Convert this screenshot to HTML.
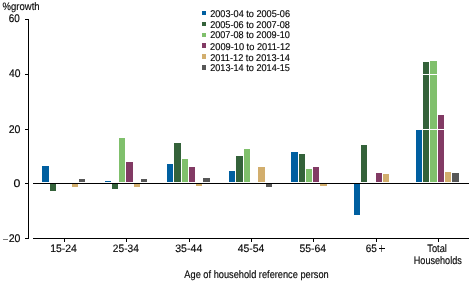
<!DOCTYPE html>
<html><head><meta charset="utf-8"><style>
html,body{margin:0;padding:0;background:#fff;width:472px;height:283px;overflow:hidden}
svg{display:block;will-change:transform;text-rendering:geometricPrecision}
text{font-family:"Liberation Sans",sans-serif;fill:#000;stroke:#000;stroke-width:0.15px}
</style></head><body>
<svg width="472" height="283" viewBox="0 0 472 283">
<g shape-rendering="crispEdges">
<rect x="42" y="166" width="7" height="16" fill="#005fa0"/>
<rect x="50" y="184" width="6" height="7" fill="#34623a"/>
<rect x="72" y="184" width="6" height="3" fill="#d2ae6d"/>
<rect x="79" y="179" width="6" height="3" fill="#575757"/>
<rect x="105" y="181" width="6" height="1" fill="#005fa0"/>
<rect x="112" y="184" width="6" height="5" fill="#34623a"/>
<rect x="119" y="138" width="6" height="44" fill="#80c06c"/>
<rect x="126" y="162" width="7" height="20" fill="#823a64"/>
<rect x="134" y="184" width="6" height="3" fill="#d2ae6d"/>
<rect x="141" y="179" width="6" height="3" fill="#575757"/>
<rect x="167" y="164" width="6" height="18" fill="#005fa0"/>
<rect x="174" y="143" width="7" height="39" fill="#34623a"/>
<rect x="182" y="159" width="6" height="23" fill="#80c06c"/>
<rect x="189" y="167" width="6" height="15" fill="#823a64"/>
<rect x="196" y="184" width="6" height="2" fill="#d2ae6d"/>
<rect x="203" y="178" width="7" height="4" fill="#575757"/>
<rect x="229" y="171" width="6" height="11" fill="#005fa0"/>
<rect x="236" y="156" width="7" height="26" fill="#34623a"/>
<rect x="244" y="149" width="6" height="33" fill="#80c06c"/>
<rect x="258" y="167" width="7" height="15" fill="#d2ae6d"/>
<rect x="266" y="184" width="6" height="3" fill="#575757"/>
<rect x="291" y="152" width="7" height="30" fill="#005fa0"/>
<rect x="299" y="154" width="6" height="28" fill="#34623a"/>
<rect x="306" y="169" width="6" height="13" fill="#80c06c"/>
<rect x="313" y="167" width="6" height="15" fill="#823a64"/>
<rect x="320" y="184" width="7" height="2" fill="#d2ae6d"/>
<rect x="354" y="184" width="6" height="31" fill="#005fa0"/>
<rect x="361" y="145" width="6" height="37" fill="#34623a"/>
<rect x="376" y="173" width="6" height="9" fill="#823a64"/>
<rect x="383" y="174" width="6" height="8" fill="#d2ae6d"/>
<rect x="416" y="130" width="6" height="52" fill="#005fa0"/>
<rect x="423" y="62" width="6" height="120" fill="#34623a"/>
<rect x="430" y="61" width="7" height="121" fill="#80c06c"/>
<rect x="438" y="115" width="6" height="67" fill="#823a64"/>
<rect x="445" y="172" width="6" height="10" fill="#d2ae6d"/>
<rect x="452" y="173" width="7" height="9" fill="#575757"/>
<rect x="33" y="74" width="436" height="1" fill="#fff"/>
<rect x="33" y="129" width="436" height="1" fill="#fff"/>
<rect x="28" y="19" width="1" height="220" fill="#000"/>
<rect x="25" y="19" width="3" height="1" fill="#000"/>
<rect x="25" y="74" width="3" height="1" fill="#000"/>
<rect x="25" y="129" width="3" height="1" fill="#000"/>
<rect x="25" y="183" width="3" height="1" fill="#000"/>
<rect x="25" y="238" width="3" height="1" fill="#000"/>
<rect x="33" y="183" width="436" height="1" fill="#000"/>
<rect x="33" y="238" width="436" height="1" fill="#000"/>
<rect x="64" y="239" width="1" height="3" fill="#000"/>
<rect x="126" y="239" width="1" height="3" fill="#000"/>
<rect x="189" y="239" width="1" height="3" fill="#000"/>
<rect x="251" y="239" width="1" height="3" fill="#000"/>
<rect x="313" y="239" width="1" height="3" fill="#000"/>
<rect x="376" y="239" width="1" height="3" fill="#000"/>
<rect x="438" y="239" width="1" height="3" fill="#000"/>
<rect x="3" y="239" width="5" height="1" fill="#7a7a7a"/>
<rect x="381" y="245" width="1" height="7" fill="#707070"/>
<rect x="379" y="248" width="6" height="1" fill="#000"/>
<rect x="202" y="11" width="4" height="4" fill="#005fa0"/>
<rect x="202" y="22" width="4" height="4" fill="#34623a"/>
<rect x="202" y="33" width="4" height="4" fill="#80c06c"/>
<rect x="202" y="43" width="4" height="5" fill="#823a64"/>
<rect x="202" y="54" width="4" height="5" fill="#d2ae6d"/>
<rect x="202" y="65" width="4" height="5" fill="#575757"/>
</g>
<g>
<text transform="translate(2.604 10) scale(0.8809 1)" font-size="10.8">%growth</text>
<text transform="translate(8.751 22) scale(0.9007 1)" font-size="11">60</text>
<text transform="translate(8.921 77) scale(0.9381 1)" font-size="11">40</text>
<text transform="translate(8.672 133) scale(0.9596 1)" font-size="11">20</text>
<text transform="translate(13.456 187) scale(1.1235 1)" font-size="11">0</text>
<text transform="translate(8.672 242) scale(0.9596 1)" font-size="11">20</text>
<text transform="translate(50.132 252) scale(0.9713 1)" font-size="10.8">15-24</text>
<text transform="translate(112.82 252) scale(0.9434 1)" font-size="10.8">25-34</text>
<text transform="translate(175.212 252) scale(0.9808 1)" font-size="10.8">35-44</text>
<text transform="translate(237.716 252) scale(0.9652 1)" font-size="10.8">45-54</text>
<text transform="translate(299.429 252) scale(0.9645 1)" font-size="10.8">55-64</text>
<text transform="translate(365.689 252) scale(0.9276 1)" font-size="10.8">65</text>
<text transform="translate(427.296 252) scale(0.8583 1)" font-size="10.8">Total</text>
<text transform="translate(413.748 264) scale(0.8428 1)" font-size="10.8">Households</text>
<text transform="translate(184.343 278) scale(0.8559 1)" font-size="10.8">Age of household reference person</text>
<text transform="translate(210.127 17) scale(0.9343 1)" font-size="9.8">2003-04 to 2005-06</text>
<text transform="translate(210.128 28) scale(0.9322 1)" font-size="9.8">2005-06 to 2007-08</text>
<text transform="translate(210.144 38) scale(0.9316 1)" font-size="9.8">2007-08 to 2009-10</text>
<text transform="translate(210.089 50) scale(0.9446 1)" font-size="9.8">2009-10 to 2011-12</text>
<text transform="translate(210.134 61) scale(0.9413 1)" font-size="9.8">2011-12 to 2013-14</text>
<text transform="translate(210.127 71) scale(0.9334 1)" font-size="9.8">2013-14 to 2014-15</text>
</g>
</svg>
</body></html>
